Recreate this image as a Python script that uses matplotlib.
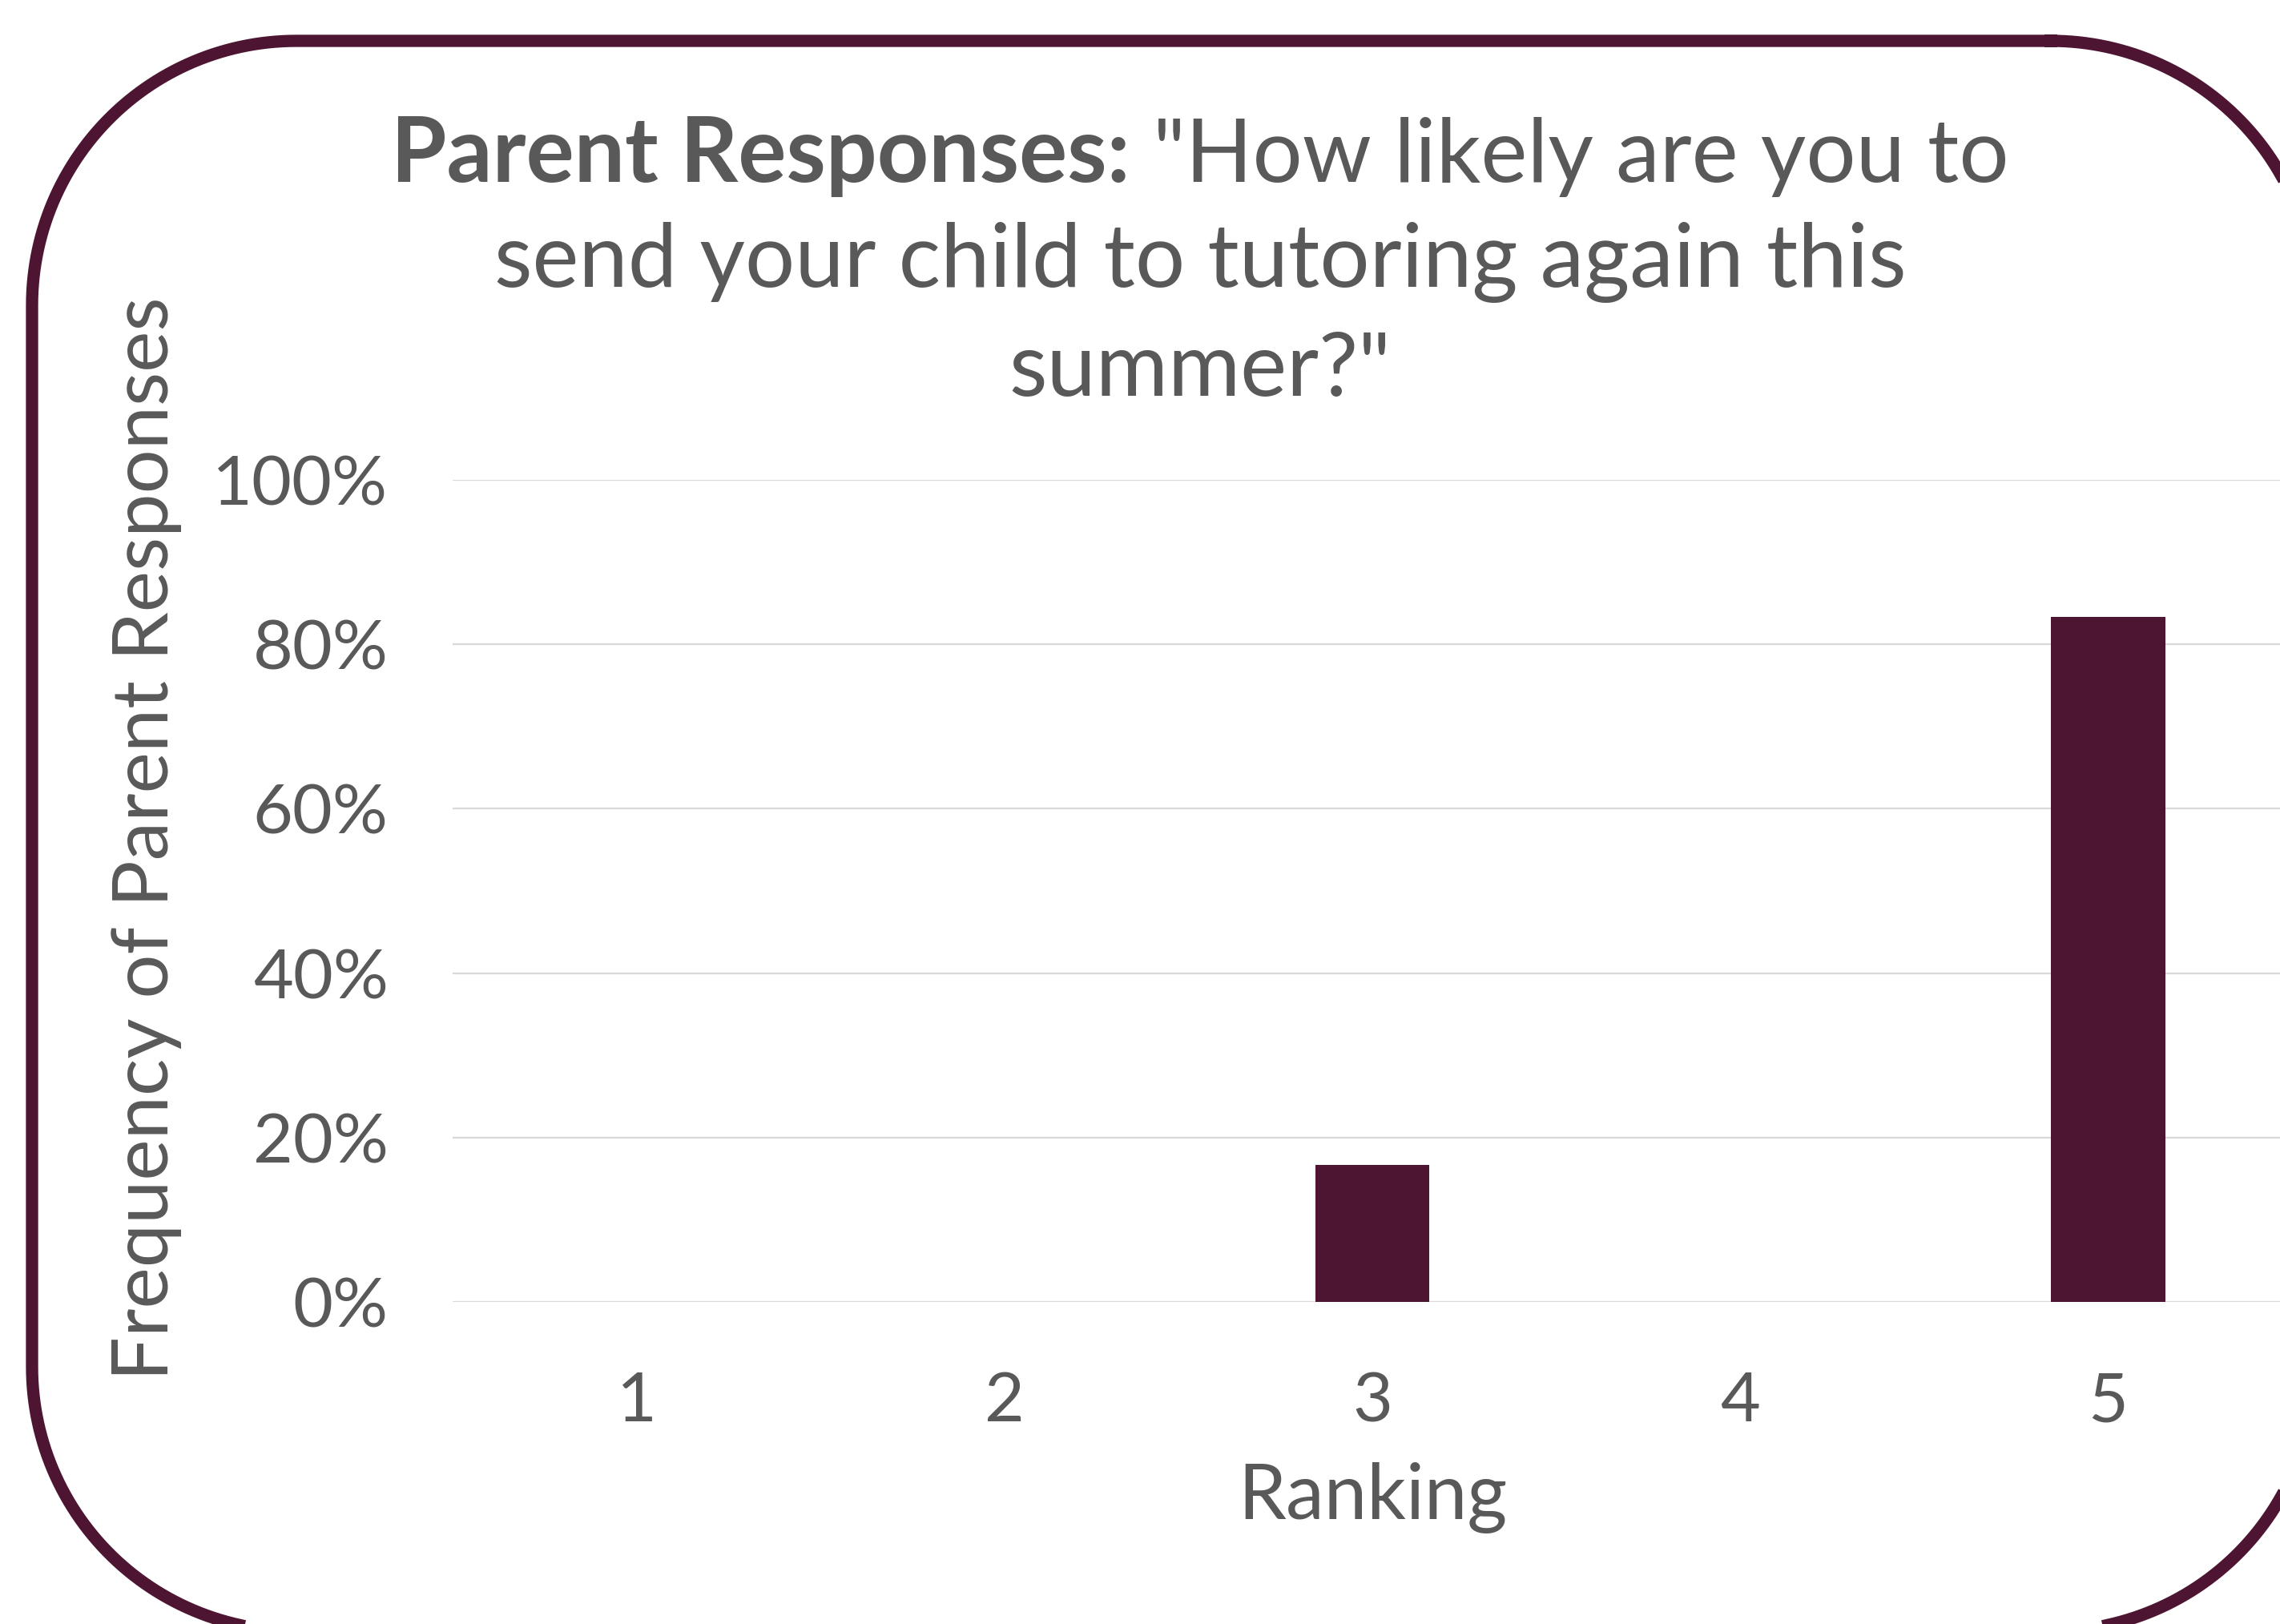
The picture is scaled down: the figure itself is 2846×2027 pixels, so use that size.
import matplotlib
matplotlib.use('Agg')
import matplotlib.pyplot as plt
import numpy as np

plt.rcParams['font.family'] = ['Lato', 'DejaVu Sans']

rankings = [1, 2, 3, 4, 5]
share = [0.0, 0.0, 1 / 6, 0.0, 5 / 6]
y_ticks = [0, 0.2, 0.4, 0.6, 0.8, 1.0]
y_labels = ['0%', '20%', '40%', '60%', '80%', '100%']

maroon = '#4E1533'
grey = '#595959'

W, H = 2846, 2027
fig = plt.figure(figsize=(W / 100, H / 100), dpi=100)

# background layer in pixel units for the rounded frame
bg = fig.add_axes([0, 0, 1, 1])
bg.set_xlim(0, W)
bg.set_ylim(H, 0)
bg.axis('off')
x0, y0, x1, y1, rad = 40, 51, 2890, 2036, 330
corners = [(x1 - rad, y0 + rad, -90, 0), (x1 - rad, y1 - rad, 0, 90),
           (x0 + rad, y1 - rad, 90, 180), (x0 + rad, y0 + rad, 180, 270)]
px, py = [], []
for cxr, cyr, a0, a1 in corners:
    a = np.radians(np.linspace(a0, a1, 60))
    px.extend(cxr + rad * np.cos(a))
    py.extend(cyr + rad * np.sin(a))
px.append(px[0])
py.append(py[0])
bg.plot(px, py, color=maroon, linewidth=11, solid_joinstyle='round', clip_on=False)

ax = fig.add_axes([565 / W, (H - 1625) / H, (2861 - 565) / W, 1026 / H])
ax.bar(rankings, share, width=0.31, color=maroon, zorder=3)
ax.set_xlim(0.5, 5.5)
ax.set_ylim(0, 1)
ax.set_yticks(y_ticks)
ax.set_yticklabels(y_labels)
ax.set_xticks(rankings)
ax.grid(axis='y', color='#D9D9D9', linewidth=1.6, zorder=0)
ax.set_axisbelow(True)
ax.patch.set_alpha(0)
for s in ax.spines.values():
    s.set_visible(False)
ax.tick_params(length=0, labelsize=62, colors=grey)
ax.tick_params(axis='x', pad=62)
ax.tick_params(axis='y', pad=58)
ax.set_xlabel('Ranking', fontsize=69, color=grey, labelpad=26)
ax.set_ylabel('Frequency of Parent Responses', fontsize=70, color=grey)
ax.yaxis.set_label_coords(-0.147, 0.564)

# title: bold lead-in followed by regular text on the first line
tsize = 79
cx = 1498 / W
fig.canvas.draw()
r = fig.canvas.get_renderer()
t1 = fig.text(0, 1 - 227 / H, 'Parent Responses:', fontsize=tsize + 2, fontweight='bold', color=grey)
t2 = fig.text(0, 1 - 227 / H, ' "How likely are you to', fontsize=tsize, color=grey)
w1 = t1.get_window_extent(r).width / W
w2 = t2.get_window_extent(r).width / W
xs = cx - (w1 + w2) / 2
t1.set_x(xs)
t2.set_x(xs + w1)
fig.text(cx, 1 - 358 / H, 'send your child to tutoring again this', fontsize=tsize,
         color=grey, ha='center', va='baseline')
fig.text(cx, 1 - 494 / H, 'summer?"', fontsize=tsize, color=grey, ha='center', va='baseline')

fig.savefig('out.png', dpi=100, facecolor='white')
